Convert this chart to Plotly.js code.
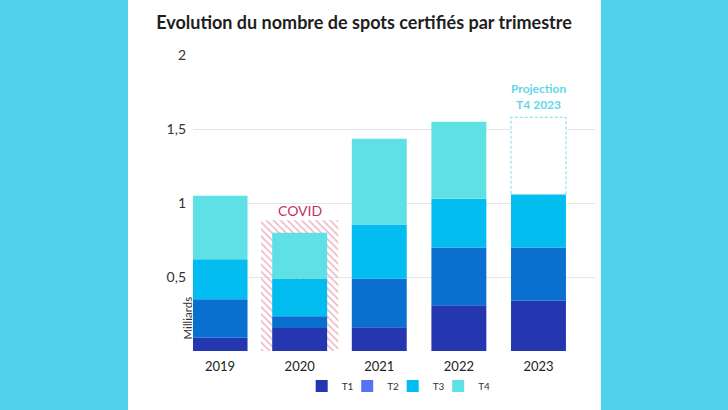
<!DOCTYPE html>
<html>
<head>
<meta charset="utf-8">
<script src="https://cdn.plot.ly/plotly-3.0.1.min.js"></script>
<style>
html,body{margin:0;padding:0;background:#4FD0EB;}
#chart{width:728px;height:410px;}
</style>
</head>
<body>
<div id="chart"></div>
<script>
// ---- data ----
const years = ['2019', '2020', '2021', '2022', '2023'];
const quarters = ['T1', 'T2', 'T3', 'T4'];
const t1 = [0.09, 0.155, 0.16, 0.31, 0.34];
const t2 = [0.26, 0.08, 0.33, 0.39, 0.36];
const t3 = [0.27, 0.255, 0.365, 0.33, 0.36];
const t4 = [0.43, 0.31, 0.58, 0.52, null];
const projectionT4 = [null, null, null, null, 0.52];
const covidBox = [null, 0.885, null, null, null];
const yTickVals = [0, 0.5, 1, 1.5, 2];
const yTickText = ['', '0,5', '1', '1,5', '2'];

// ---- styles ----
const barColors = ['#2436B0', '#0A70CF', '#03BDF0', '#5EE0E5'];
const legendColors = ['#2436B0', '#5573F5', '#03BDF0', '#5EE0E5'];
const barWidth = 0.69;
const FONT = 'Lato, "Open Sans", sans-serif';

const series = [t1, t2, t3, t4];
const bases = [];
let cum = years.map(() => 0);
series.forEach(s => {
  bases.push(cum.slice());
  cum = cum.map((c, i) => c + (s[i] || 0));
});

const traces = [];
// COVID hatched box (behind)
traces.push({
  type: 'bar', x: years, y: covidBox, base: 0, width: 0.97,
  marker: {color: 'rgba(255,255,255,0)', line: {width: 0},
    pattern: {shape: '\\', fgcolor: '#EDB3C3', bgcolor: 'rgba(255,255,255,0)', size: 5, solidity: 0.3}},
  showlegend: false, hoverinfo: 'skip'
});
series.forEach((s, k) => {
  traces.push({
    type: 'bar', x: years, y: s, base: bases[k], width: barWidth, name: quarters[k],
    marker: {color: barColors[k], line: {width: 0}}, showlegend: false
  });
});
// projection (white box)
traces.push({
  type: 'bar', x: years, y: projectionT4, base: bases[3], width: barWidth,
  marker: {color: '#ffffff', line: {width: 0}}, showlegend: false, hoverinfo: 'skip'
});
// legend entries
quarters.forEach((q, k) => {
  traces.push({
    type: 'bar', x: [years[0]], y: [0], base: 0, width: 0, name: q,
    marker: {color: legendColors[k], line: {width: 0}}, showlegend: true, hoverinfo: 'skip'
  });
});
// invisible spacer entry so the last label is not clipped
traces.push({
  type: 'bar', x: [years[0]], y: [0], base: 0, width: 0, name: ' ',
  marker: {color: 'rgba(0,0,0,0)', line: {width: 0}}, showlegend: true, hoverinfo: 'skip'
});

const shapes = [
  {type: 'rect', xref: 'paper', yref: 'paper', x0: -0.1617, x1: 1.0149, y0: -1, y1: 2,
   fillcolor: '#ffffff', line: {width: 0}, layer: 'below'}
];
projectionT4.forEach((v, i) => {
  if (v == null) return;
  shapes.push({type: 'rect', xref: 'x', yref: 'y',
    x0: i - barWidth / 2, x1: i + barWidth / 2, y0: bases[3][i], y1: bases[3][i] + v,
    line: {color: '#94E2EE', width: 1.2, dash: '3px,2px'}, fillcolor: 'rgba(0,0,0,0)'});
});

const annotations = [
  {xref: 'paper', x: 0, xshift: -6, xanchor: 'center', yref: 'y', y: 0.22, yanchor: 'middle',
   text: 'Milliards', textangle: -90,
   showarrow: false, font: {family: FONT, size: 11.5, color: '#333'}},
];
covidBox.forEach((v, i) => {
  if (v == null) return;
  annotations.push({xref: 'x', yref: 'y', x: i, y: v, xanchor: 'center', yanchor: 'bottom', yshift: -1,
    text: 'COVID', showarrow: false,
    font: {family: FONT, size: 14, color: '#C2305F'}});
});
projectionT4.forEach((v, i) => {
  if (v == null) return;
  annotations.push({xref: 'x', yref: 'y', x: i, y: bases[3][i] + v, xanchor: 'center', yanchor: 'bottom', yshift: 3,
    text: '<b>Projection<br>T4 2023</b>', showarrow: false,
    font: {family: FONT, size: 12, color: '#62D7E8'}});
});

const layout = {
  width: 728, height: 410,
  margin: {l: 193, r: 133, t: 55, b: 59, autoexpand: false},
  paper_bgcolor: 'rgba(0,0,0,0)', plot_bgcolor: 'rgba(0,0,0,0)',
  barmode: 'overlay',
  font: {family: FONT, color: '#222'},
  title: {text: '<b>Evolution du nombre de spots certifiés par trimestre</b>',
    xref: 'container', x: 0.5, xanchor: 'center', yref: 'container', y: 0.96, yanchor: 'top',
    font: {family: FONT, size: 18, color: '#1e1e1e'}},
  xaxis: {type: 'category', range: [-0.34, 4.71], showgrid: false, zeroline: false, showline: false,
    ticks: '', ticklabelstandoff: 6, tickfont: {family: FONT, size: 13, color: '#222'}, fixedrange: true},
  yaxis: {range: [0, 2.002], tickvals: yTickVals, ticktext: yTickText, showgrid: true, gridcolor: '#E6E6E6',
    gridwidth: 1, zeroline: false, showline: false, ticks: '', ticklabelstandoff: 6,
    tickfont: {family: FONT, size: 14, color: '#333'}, fixedrange: true},
  legend: {orientation: 'h', xref: 'container', x: 0.571, xanchor: 'center',
    yref: 'container', y: 0.0585, yanchor: 'middle',
    font: {family: FONT, size: 10, color: '#333'}, traceorder: 'normal', entrywidth: 0.5},
  shapes: shapes,
  annotations: annotations,
  showlegend: true
};

Plotly.newPlot('chart', traces, layout, {displayModeBar: false, staticPlot: true});
</script>
</body>
</html>
